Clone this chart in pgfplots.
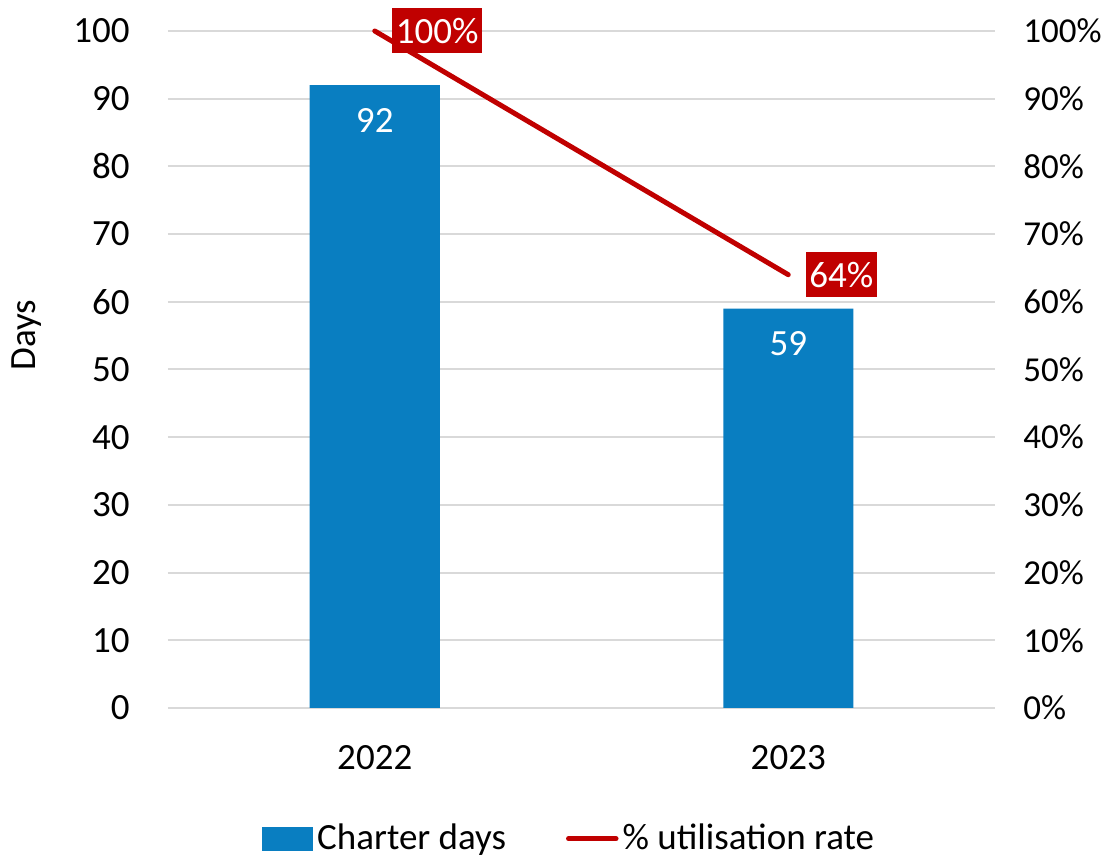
\documentclass[border=0pt]{standalone}
\usepackage{pgfplots}
\pgfplotsset{compat=1.18}
\usepackage{fontspec}
\setmainfont{Carlito}

\definecolor{barblue}{RGB}{9,126,193}
\definecolor{linered}{RGB}{192,0,0}
\definecolor{gridgray}{RGB}{217,217,217}
\newcommand{\lbl}{\fontsize{18.5}{22}\selectfont}

\pgfplotsset{
  base/.style={
    width=413.5pt, height=338.5pt, scale only axis,
    at={(0,0)}, anchor=south west,
    xmin=-0.5, xmax=1.5, ymin=0, ymax=100,
    ytick={0,10,...,100},
    axis line style={draw=none},
    major tick length=0pt,
    /pgf/number format/assume math mode=true,
    ticklabel style={font=\lbl, inner sep=0pt},
  }
}

\begin{document}
\begin{tikzpicture}
\begin{axis}[
  base,
  xtick={0,1}, xticklabels={2022,2023},
  xticklabel style={anchor=north, yshift=-18.5pt},
  yticklabel style={anchor=east, xshift=-19pt},
  ymajorgrids, grid style={gridgray, line width=1pt},
  ylabel={Days},
  ylabel style={font=\lbl, at={(axis description cs:-0.1705,0.551)}, anchor=center},
  ybar, bar width=65pt,
  nodes near coords,
  nodes near coords style={anchor=center, yshift=-17.5pt, text=white, font=\lbl},
]
\addplot[fill=barblue, draw=none] coordinates {(0,92) (1,59)};
\end{axis}

\begin{axis}[
  base,
  hide x axis,
  axis y line*=right,
  yticklabel={\pgfmathprintnumber{\tick}\%},
  yticklabel style={anchor=west, xshift=14pt, font=\fontsize{17.5}{21}\selectfont},
  clip=false,
  legend columns=2,
  legend style={draw=none, fill=none, font=\lbl, inner sep=0pt,
    at={(axis description cs:0.1137,-0.193)}, anchor=west,
    /tikz/every even column/.append style={column sep=28pt},
    nodes={inner sep=2pt}},
  legend cell align=left,
]
\addlegendimage{legend image code/.code={\fill[barblue] (0pt,-5.75pt) rectangle (25pt,5.75pt);}}
\addlegendentry{Charter days}
\addplot[linered, line width=2.5pt, line cap=round,
  legend image code/.code={\draw[linered, line width=2.5pt, line cap=round] (1.25pt,0pt) -- (25pt,0pt);},
  nodes near coords, point meta=explicit symbolic,
  nodes near coords style={anchor=west, xshift=7.5pt, fill=linered, text=white,
    font=\lbl, inner xsep=1.8pt, inner ysep=0pt, minimum height=22.5pt}]
  coordinates {(0,100) [100\%] (1,64) [64\%]};
\addlegendentry{\% utilisation rate}
\end{axis}

\pgfresetboundingbox
\path[use as bounding box] (-84pt,-76pt) rectangle (467pt,354pt);
\end{tikzpicture}
\end{document}
